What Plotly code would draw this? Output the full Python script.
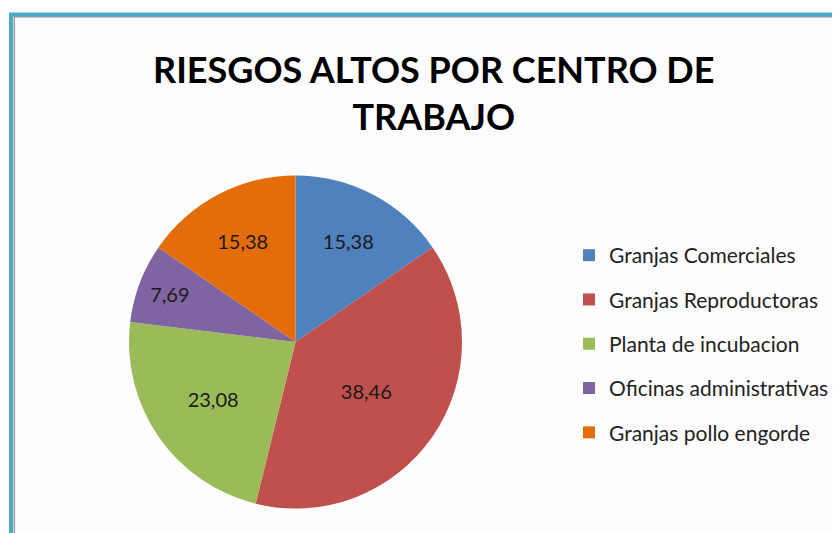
import plotly.graph_objects as go

# ---- data ----
categories = ["Granjas Comerciales", "Granjas Reproductoras", "Planta de incubacion",
              "Oficinas administrativas", "Granjas pollo engorde"]
values = [15.38, 38.46, 23.08, 7.69, 15.38]
colors = ["#4F81BD", "#C0504D", "#9BBB59", "#8064A2", "#E46C0A"]
title_text = "RIESGOS ALTOS POR CENTRO DE<br>TRABAJO"

# the page body has an 8px margin, so the figure is drawn from (8, 8) of the window
OFF = 8
W, H = 840 - OFF, 533 - OFF


def px(x):
    return (x - OFF) / W


def py(y):
    return 1 - (y - OFF) / H


fig = go.Figure()

fig.add_trace(go.Pie(
    labels=categories,
    values=values,
    sort=False,
    direction="clockwise",
    rotation=0,
    marker=dict(colors=colors, line=dict(width=0)),
    texttemplate="%{value:.2f}",
    textposition="inside",
    insidetextorientation="horizontal",
    textfont=dict(family="Lato", size=20, color="#1a1a1a"),
    showlegend=False,
    hoverinfo="label+value",
    domain=dict(x=[px(129), px(462)], y=[py(514), py(170)]),
))

# legend entries (one per category, driven by the same lists)
for i, (cat, col) in enumerate(zip(categories, colors)):
    fig.add_trace(go.Scatter(
        x=[None], y=[None], mode="markers", name=cat,
        marker=dict(symbol="square", size=12, color=col),
        legendgroup=f"g{i}", showlegend=True, hoverinfo="skip",
    ))

fig.update_layout(
    width=W, height=H,
    margin=dict(l=0, r=0, t=0, b=0),
    paper_bgcolor="#FFFFFF",
    plot_bgcolor="rgba(0,0,0,0)",
    separators=",.",
    font=dict(family="Lato", color="#222222"),
    annotations=[dict(
        text=title_text, showarrow=False,
        xref="paper", yref="paper",
        x=px(433), xanchor="center",
        y=py(92), yanchor="middle",
        font=dict(family="Lato", size=36, color="#000000", weight="bold"),
    )],
    xaxis=dict(visible=False),
    yaxis=dict(visible=False),
    legend=dict(
        x=px(569), xanchor="left",
        y=py(235), yanchor="top",
        font=dict(family="Lato", size=21, color="#222222"),
        tracegroupgap=14,
        bgcolor="rgba(0,0,0,0)",
        itemclick=False, itemdoubleclick=False,
    ),
    shapes=[
        dict(type="rect", xref="paper", yref="paper",
             x0=px(14.3), x1=1.2, y0=-0.2, y1=py(16.8),
             line=dict(color="#9A9A9A", width=1.5), fillcolor="#FDFDFD", layer="below"),
        dict(type="rect", xref="paper", yref="paper",
             x0=px(11), x1=1.2, y0=-0.2, y1=py(14.5),
             line=dict(color="#4BACC6", width=4), fillcolor="rgba(0,0,0,0)", layer="below"),
    ],
)

fig.write_html("out.html")
